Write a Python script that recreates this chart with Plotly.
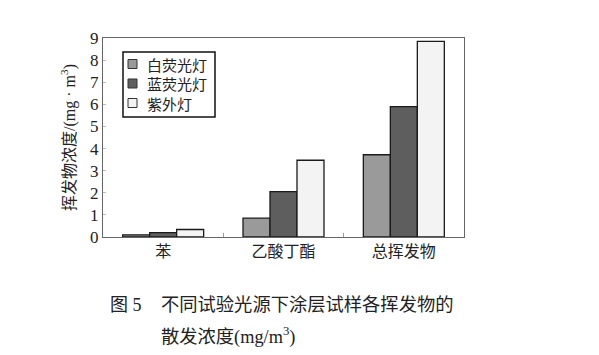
import plotly.graph_objects as go

categories = ["苯", "乙酸丁酯", "总挥发物"]
series_names = ["白荧光灯", "蓝荧光灯", "紫外灯"]
white_lamp = [0.10, 0.85, 3.72]
blue_lamp = [0.20, 2.05, 5.90]
uv_lamp = [0.34, 3.47, 8.85]
y_ticks = [0, 1, 2, 3, 4, 5, 6, 7, 8, 9]

colors = ["#9a9a9a", "#5e5e5e", "#f3f3f3"]
cjk = "Noto Sans CJK SC"
serif = "Liberation Serif, Noto Sans CJK SC"

# page body has an 8px margin; work in screen pixels of the reference
OFF = 8
PL, PR, PT, PB = 103 - OFF, 464 - OFF, 38 - OFF, 237 - OFF
W, H = 599, 355


def px(x):
    return (x - OFF - PL) / (PR - PL)


def py(y):
    return (PB - (y - OFF)) / (PB - PT)


fig = go.Figure()
for name, vals, c in zip(series_names, [white_lamp, blue_lamp, uv_lamp], colors):
    fig.add_trace(go.Bar(
        x=categories, y=vals, name=name, showlegend=False,
        marker=dict(color=c, line=dict(color="#1a1a1a", width=1.3)),
    ))

fig.update_layout(
    width=W, height=H,
    margin=dict(l=PL, r=W - PR, t=PT, b=H - PB, autoexpand=False),
    paper_bgcolor="white", plot_bgcolor="white",
    barmode="group", bargap=0.327, bargroupgap=0,
    font=dict(family=serif, color="#222"),
)
fig.update_xaxes(
    showline=True, linecolor="#666", linewidth=1, mirror=True,
    ticks="inside", ticklen=4, tickcolor="#999", tickson="boundaries",
    tickfont=dict(family=cjk, size=16, color="#222"),
    showgrid=False,
)
fig.update_yaxes(
    range=[0, 9], tickvals=y_ticks,
    showline=True, linecolor="#666", linewidth=1, mirror=True,
    ticks="inside", ticklen=3, tickcolor="#bbb",
    tickfont=dict(family="Liberation Serif", size=17, color="#222"),
    showgrid=False, zeroline=False,
    title=dict(text="挥发物浓度/(mg · m<sup>3</sup>)",
               font=dict(family=serif, size=16, color="#222"), standoff=10),
)

# custom legend box
fig.add_shape(type="rect", xref="paper", yref="paper",
              x0=px(123), x1=px(215), y0=py(117), y1=py(52),
              line=dict(color="#111", width=1.5), fillcolor="white", layer="above")
row_y = [64, 83.5, 103]
for name, c, ry in zip(series_names, colors, row_y):
    fig.add_shape(type="rect", xref="paper", yref="paper",
                  x0=px(128), x1=px(137), y0=py(ry + 4.5), y1=py(ry - 4.5),
                  line=dict(color="#333", width=1), fillcolor=c, layer="above")
    fig.add_annotation(xref="paper", yref="paper", x=px(145), y=py(ry),
                       xanchor="left", yanchor="middle", showarrow=False,
                       text=name, font=dict(family=cjk, size=15, color="#222"))

fig.add_annotation(xref="paper", yref="paper", x=px(108), y=py(305),
                   xanchor="left", yanchor="middle", showarrow=False,
                   text="图 5", font=dict(family=serif, size=18, color="#222"))
fig.add_annotation(xref="paper", yref="paper", x=px(159), y=py(305),
                   xanchor="left", yanchor="middle", showarrow=False,
                   text="不同试验光源下涂层试样各挥发物的",
                   font=dict(family=serif, size=18.3, color="#222"))
fig.add_annotation(xref="paper", yref="paper", x=px(159), y=py(336),
                   xanchor="left", yanchor="middle", showarrow=False,
                   text="散发浓度(mg/m<sup>3</sup>)",
                   font=dict(family=serif, size=18.3, color="#222"))

fig.write_html("out.html")
